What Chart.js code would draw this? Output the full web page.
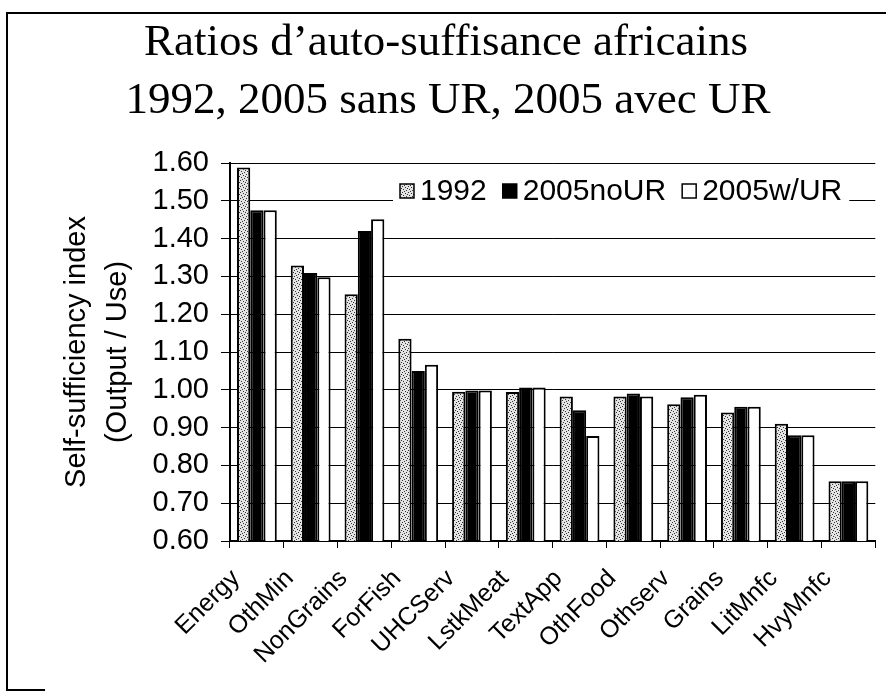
<!DOCTYPE html>
<html>
<head>
<meta charset="utf-8">
<title>Ratios d'auto-suffisance africains</title>
<script src="https://cdn.jsdelivr.net/npm/chart.js@4"></script>
<style>
  html, body { margin: 0; padding: 0; background: #fff; }
  #wrap { width: 886px; height: 693px; position: relative; }
</style>
</head>
<body>
<div id="wrap"><canvas id="ratioChart" width="886" height="693"></canvas></div>
<script>
// Données du graphique
const categories = ['Energy', 'OthMin', 'NonGrains', 'ForFish', 'UHCServ', 'LstkMeat',
    'TextApp', 'OthFood', 'Othserv', 'Grains', 'LitMnfc', 'HvyMnfc'];
const seriesNames = ['1992', '2005noUR', '2005w/UR'];
const values1992 = [1.588, 1.329, 1.253, 1.135, 0.995, 0.994, 0.982, 0.982, 0.962, 0.940, 0.910, 0.758];
const values2005noUR = [1.475, 1.309, 1.420, 1.050, 0.998, 1.006, 0.946, 0.990, 0.980, 0.955, 0.880, 0.758];
const values2005wUR = [1.475, 1.298, 1.451, 1.066, 0.998, 1.006, 0.878, 0.982, 0.987, 0.955, 0.880, 0.758];
const yTicks = [0.6, 0.7, 0.8, 0.9, 1.0, 1.1, 1.2, 1.3, 1.4, 1.5, 1.6];
const titleLines = ['Ratios d\u2019auto-suffisance africains', '1992, 2005 sans UR, 2005 avec UR'];

// Motif pointillé pour la série 1992 (tramé comme un scan)
function makeStipple() {
    const c = document.createElement('canvas');
    c.width = 6; c.height = 6;
    const g = c.getContext('2d');
    g.fillStyle = '#e4e4e4';
    g.fillRect(0, 0, 6, 6);
    g.fillStyle = '#333';
    [[0, 0], [3, 1], [1, 3], [4, 4], [5, 2], [2, 5]].forEach(p => g.fillRect(p[0], p[1], 1, 1));
    return g.createPattern(c, 'repeat');
}

const ctx = document.getElementById('ratioChart').getContext('2d');
const stipple = makeStipple();
const fills = [stipple, '#000', '#fff'];

// Titre, légende interne et cadre dessinés à la main
const decorPlugin = {
    id: 'decor',
    beforeDraw(chart) {
        const c = chart.ctx;
        c.save();
        c.fillStyle = '#fff';
        c.fillRect(0, 0, chart.width, chart.height);
        c.restore();
    },
    afterDraw(chart) {
        const c = chart.ctx;
        c.save();
        // cadre
        c.strokeStyle = '#000';
        c.lineWidth = 2;
        c.beginPath();
        c.moveTo(886, 13);
        c.lineTo(7, 13);
        c.lineTo(7, 690);
        c.lineTo(45, 690);
        c.stroke();

        // titre
        c.fillStyle = '#000';
        c.font = '45px "Liberation Serif", "Times New Roman", serif';
        c.textAlign = 'center';
        c.textBaseline = 'middle';
        c.fillText(titleLines[0], 446, 43);
        c.fillText(titleLines[1], 448, 101);

        // légende
        c.font = '30px "Liberation Sans", Arial, sans-serif';
        c.textAlign = 'left';
        const ly = 191;
        let x = 400;
        const widths = seriesNames.map(n => c.measureText(n).width);
        const total = widths.reduce((a, b) => a + b, 0) + 3 * (14 + 6) + 2 * 16;
        c.fillStyle = '#fff';
        c.fillRect(x - 7, ly - 17, total + 14, 34);
        seriesNames.forEach((name, i) => {
            c.fillStyle = fills[i];
            c.fillRect(x, ly - 7, 14, 14);
            c.strokeStyle = '#000';
            c.lineWidth = 1.5;
            c.strokeRect(x, ly - 7, 14, 14);
            c.fillStyle = '#000';
            c.fillText(name, x + 20, ly + 1);
            x += 20 + widths[i] + 16;
        });
        c.restore();
    }
};

new Chart(ctx, {
    type: 'bar',
    data: {
        labels: categories,
        datasets: [values1992, values2005noUR, values2005wUR].map((vals, i) => ({
            label: seriesNames[i],
            data: vals,
            backgroundColor: fills[i],
            borderColor: '#000',
            borderWidth: 2,
            borderSkipped: 'bottom',
            categoryPercentage: 0.74,
            barPercentage: 1.0
        }))
    },
    options: {
        responsive: false,
        animation: false,
        layout: { padding: { left: 57, right: 9, top: 163, bottom: 8 } },
        plugins: {
            legend: { display: false },
            title: { display: false },
            tooltip: { enabled: false }
        },
        scales: {
            y: {
                min: 0.6,
                max: 1.6,
                afterBuildTicks: scale => { scale.ticks = yTicks.map(v => ({ value: v })); },
                afterFit: scale => { scale.width = 173; },
                ticks: {
                    color: '#000',
                    padding: 12,
                    font: { family: '"Liberation Sans", Arial, sans-serif', size: 29 },
                    callback: v => Number(v).toFixed(2)
                },
                grid: { color: '#000', lineWidth: 1, tickLength: 9 },
                border: { color: '#000', width: 2 },
                title: {
                    display: true,
                    text: ['Self-sufficiency index', '(Output / Use)'],
                    color: '#000',
                    font: { family: '"Liberation Sans", Arial, sans-serif', size: 29, lineHeight: 1.4 },
                    padding: { top: 0, bottom: 0 }
                }
            },
            x: {
                afterFit: scale => { scale.height = 144; },
                ticks: {
                    color: '#000',
                    minRotation: 45,
                    maxRotation: 45,
                    padding: 16,
                    labelOffset: -21,
                    font: { family: '"Liberation Sans", Arial, sans-serif', size: 25 }
                },
                grid: { drawOnChartArea: false, color: '#000', tickLength: 7, offset: true },
                border: { color: '#000', width: 2 }
            }
        }
    },
    plugins: [decorPlugin]
});
</script>
</body>
</html>
